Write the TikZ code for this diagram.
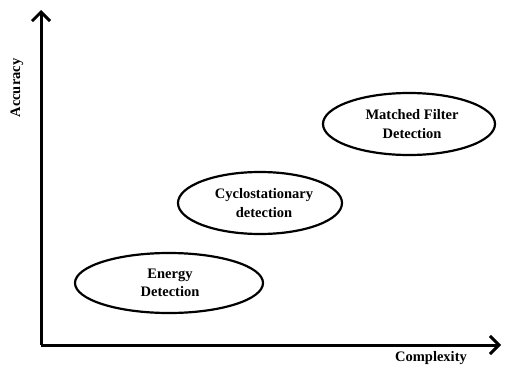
\documentclass[tikz,border=0pt]{standalone}
\usepackage{fontspec}
\setmainfont{Liberation Serif}
\usetikzlibrary{arrows.meta,shapes.geometric}
\begin{document}
\begin{tikzpicture}[x=1pt,y=-1pt,
  axis/.style={line width=3pt,-{Straight Barb[length=9pt,width=18pt,line width=3pt]}},
  oval/.style={draw,line width=2.2pt,ellipse,inner sep=0pt},
  lbl/.style={font=\bfseries\fontsize{14.5}{18.5}\selectfont,align=center}]
\useasboundingbox (0,0) rectangle (506,372);
\coordinate (o) at (41,345);
\coordinate (ytip) at (41,10);
\coordinate (xtip) at (501,345);
\draw[axis] (o) -- (ytip);
\draw[axis] (o) -- (xtip);
\node[oval,minimum width=188pt,minimum height=60pt] (e) at (169,283) {};
\node[lbl] (et) at (170,283) {Energy\\Detection};
\node[oval,minimum width=164pt,minimum height=62pt] (c) at (260,203) {};
\node[lbl] (ct) at (264,203) {Cyclostationary\\detection};
\node[oval,minimum width=172pt,minimum height=62pt] (m) at (409,124) {};
\node[lbl] (mt) at (412,124) {Matched Filter\\Detection};
\node[lbl,font=\bfseries\fontsize{14.5}{17}\selectfont,rotate=90] (acc) at (17,88) {Accuracy};
\node[lbl] (cx) at (431,358) {Complexity};
\end{tikzpicture}
\end{document}
